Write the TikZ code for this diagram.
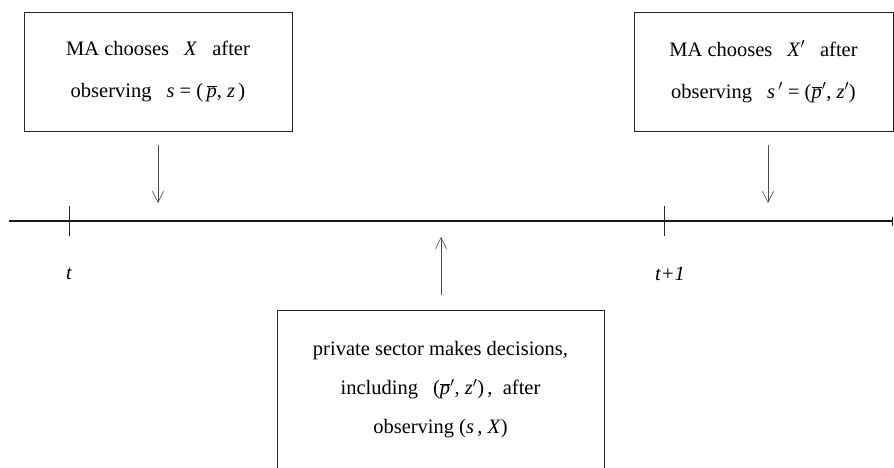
\documentclass[tikz,border=0pt]{standalone}
\usepackage[no-math]{fontspec}
\setmainfont{Liberation Serif}
\usetikzlibrary{arrows.meta}
\newcommand{\mi}[1]{\textit{#1}}
\newcommand{\pbar}{$\overline{\hbox{\itshape p}}$}
\newcommand{\pr}{$'$}
\newcommand{\gap}{\hspace{15pt}}
\tikzset{
  evbox/.style={draw=black!85, line width=0.9pt, align=center, inner sep=0pt},
  boxfont/.style={font=\fontsize{20.5}{42}\selectfont},
  boxfontb/.style={font=\fontsize{20.5}{39}\selectfont},
  evarrow/.style={draw=black!70, line width=0.6pt, -{Straight Barb[length=11pt,width=11pt]}},
  tline/.style={draw=black!90, line width=1.5pt},
  tick/.style={draw=black!85, line width=1pt},
  tlabel/.style={font=\fontsize{20.5}{22}\selectfont\itshape}
}
\begin{document}
\begin{tikzpicture}[x=1pt,y=-1pt]
\useasboundingbox (0,0) rectangle (894,467);
\clip (0,0) rectangle (894,467);
% boxes
\node[evbox, boxfont, minimum width=268pt, minimum height=119pt] (b1) at (158,71.5)
  {MA chooses\gap\mi{X}\gap after\\observing\gap\mi{s} = (\,\pbar, \mi{z}\,)};
\node[evbox, boxfont, minimum width=259pt, minimum height=119pt] (b2) at (763.5,71.5)
  {MA chooses\gap\mi{X}\pr\gap after\\observing\gap\mi{s}\,\pr\ = (\pbar\pr, \mi{z}\pr)};
\node[evbox, boxfontb, minimum width=327pt, minimum height=160pt] (b3) at (440.5,390)
  {private sector makes decisions,\\including\gap(\pbar\pr, \mi{z}\pr)\,,\ \ after\\observing (\mi{s}\,, \mi{X})};
% timeline
\coordinate (tl0) at (9,221);
\coordinate (tl1) at (893,221);
\draw[tline, -{Bar[width=9pt,line width=1pt]}] (tl0) -- (tl1);
\coordinate (t0a) at (69,206); \coordinate (t0b) at (69,236);
\coordinate (t1a) at (664,206); \coordinate (t1b) at (664,236);
\draw[tick] (t0a) -- (t0b);
\draw[tick] (t1a) -- (t1b);
\node[tlabel] (lt) at (69,274) {t};
\node[tlabel] (lt1) at (670,274) {t+1};
% arrows
\coordinate (a1s) at (158,145); \coordinate (a1e) at (158,203);
\coordinate (a2s) at (768,145); \coordinate (a2e) at (768,203);
\coordinate (a3s) at (441,295); \coordinate (a3e) at (441,237);
\draw[evarrow] (a1s) -- (a1e);
\draw[evarrow] (a2s) -- (a2e);
\draw[evarrow] (a3s) -- (a3e);
\end{tikzpicture}
\end{document}
